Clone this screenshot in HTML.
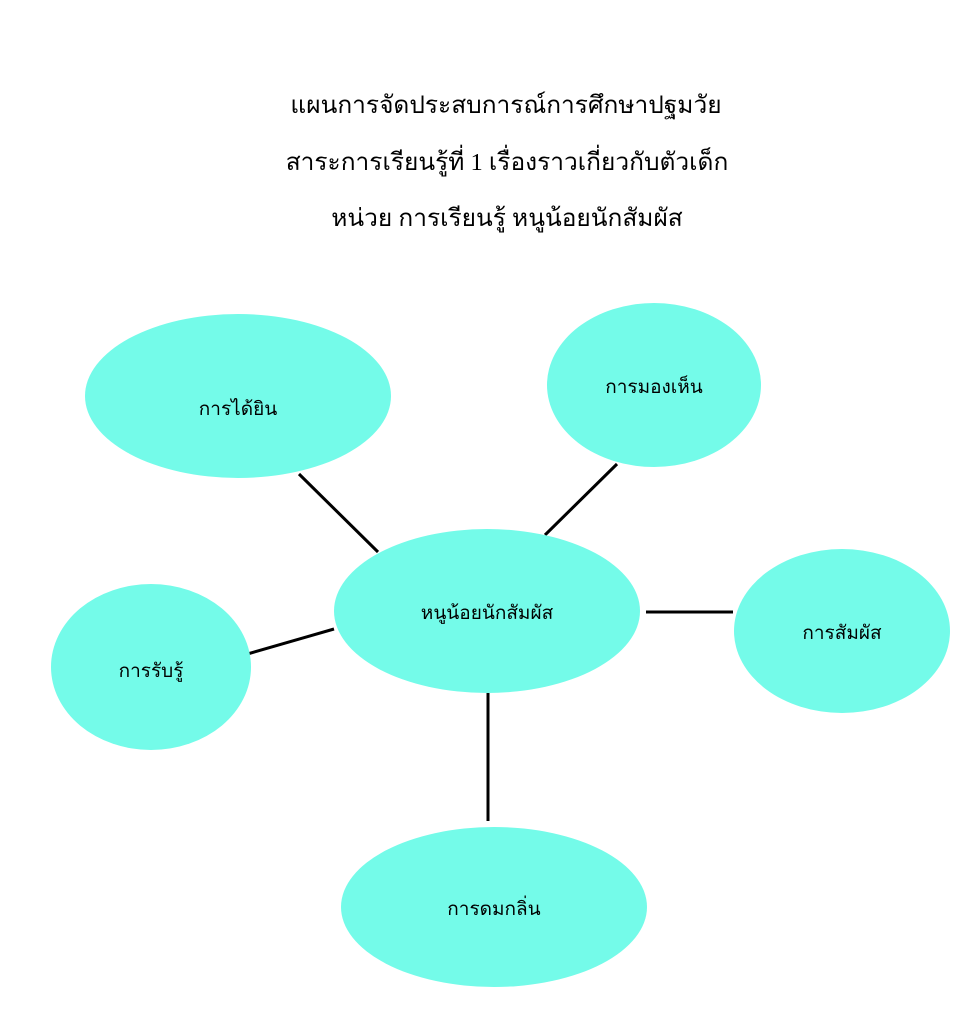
<!DOCTYPE html>
<html><head><meta charset="utf-8"><style>
html,body{margin:0;padding:0;background:#fff;}
body{width:962px;height:1024px;overflow:hidden;}
</style></head><body>
<svg width="962" height="1024" xmlns="http://www.w3.org/2000/svg" style="display:block">
<g font-family="'Liberation Serif', serif" fill="#000" text-anchor="middle">
<text x="506" y="113" font-size="24.5">แผนการจัดประสบการณ์การศึกษาปฐมวัย</text>
<text x="507" y="170" font-size="24.5">สาระการเรียนรู้ที่ 1 เรื่องราวเกี่ยวกับตัวเด็ก</text>
<text x="507" y="226" font-size="24.5">หน่วย การเรียนรู้ หนูน้อยนักสัมผัส</text>
</g>
<g stroke="#000" stroke-width="3">
<line x1="299" y1="474" x2="378" y2="552"/>
<line x1="617" y1="464" x2="545" y2="535"/>
<line x1="646" y1="612" x2="733" y2="612"/>
<line x1="244" y1="655" x2="334" y2="629"/>
<line x1="488" y1="693" x2="488" y2="821"/>
</g>
<g fill="#74fbe9">
<ellipse cx="238" cy="396" rx="153" ry="82"/>
<ellipse cx="654" cy="385" rx="107" ry="82"/>
<ellipse cx="487" cy="611" rx="153" ry="82"/>
<ellipse cx="842" cy="631" rx="108" ry="82"/>
<ellipse cx="151" cy="667" rx="100" ry="83"/>
<ellipse cx="494" cy="907" rx="153" ry="80"/>
</g>
<g font-family="'Liberation Serif', serif" font-size="19" fill="#000" text-anchor="middle">
<text x="238" y="415">การได้ยิน</text>
<text x="654" y="393">การมองเห็น</text>
<text x="487" y="619">หนูน้อยนักสัมผัส</text>
<text x="842" y="639">การสัมผัส</text>
<text x="151" y="677">การรับรู้</text>
<text x="494" y="915">การดมกลิ่น</text>
</g>
</svg>
</body></html>
